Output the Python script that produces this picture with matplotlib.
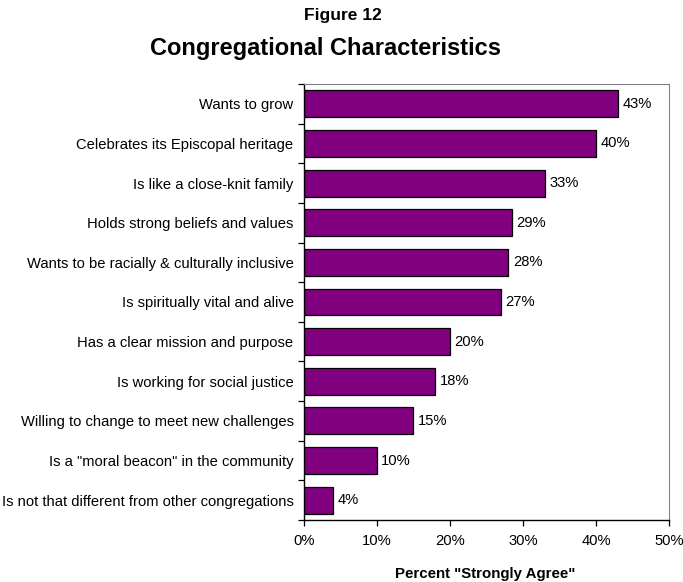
import matplotlib.pyplot as plt

plt.rcParams['font.family'] = ['Liberation Sans', 'DejaVu Sans']

# data (top to bottom as in the chart)
categories = ["Wants to grow",
              "Celebrates its Episcopal heritage",
              "Is like a close-knit family",
              "Holds strong beliefs and values",
              "Wants to be racially & culturally inclusive",
              "Is spiritually vital and alive",
              "Has a clear mission and purpose",
              "Is working for social justice",
              "Willing to change to meet new challenges",
              "Is a \"moral beacon\" in the community",
              "Is not that different from other congregations"]
values = [43, 40, 33, 28.5, 28, 27, 20, 18, 15, 10, 4]
shown = ["43%", "40%", "33%", "29%", "28%", "27%", "20%", "18%", "15%", "10%", "4%"]
xticks = [0, 10, 20, 30, 40, 50]

fs = 10.6

fig = plt.figure(figsize=(6.83, 5.82), dpi=100)
ax = fig.add_axes([0.445, 0.1065, 0.5345, 0.7492])

pos = list(range(len(categories)))[::-1]
ax.barh(pos, values, height=0.68, color='#800080', edgecolor='black', linewidth=0.9)

for p, v, s in zip(pos, values, shown):
    ax.text(v + 0.6, p, s, va='center', ha='left', fontsize=fs)

ax.set_xlim(0, 50)
ax.set_ylim(-0.5, len(categories) - 0.5)
ax.set_xticks(xticks)
ax.set_xticklabels([f"{t}%" for t in xticks], fontsize=fs)
ax.set_yticks(pos)
ax.set_yticklabels(categories, fontsize=fs)
ax.tick_params(axis='y', length=0, pad=7.5)
ax.set_yticks([i + 0.5 for i in range(-1, len(categories))], minor=True)
ax.tick_params(axis='y', which='minor', length=4, direction='out', width=0.9)
ax.tick_params(axis='x', length=4, direction='out', width=0.9, pad=6)

for sp in ['top', 'right']:
    ax.spines[sp].set_color('#808080')
    ax.spines[sp].set_linewidth(0.8)
for sp in ['left', 'bottom']:
    ax.spines[sp].set_linewidth(1.0)

fig.text(0.711, 0.014, 'Percent "Strongly Agree"', ha='center', va='center',
         fontsize=10.8, fontweight='bold')

fig.text(0.502, 0.974, "Figure 12", ha='center', va='center', fontsize=12.5, fontweight='bold')
fig.text(0.476, 0.916, "Congregational Characteristics", ha='center', va='center',
         fontsize=17, fontweight='bold')

fig.savefig('out.png', dpi=100)
